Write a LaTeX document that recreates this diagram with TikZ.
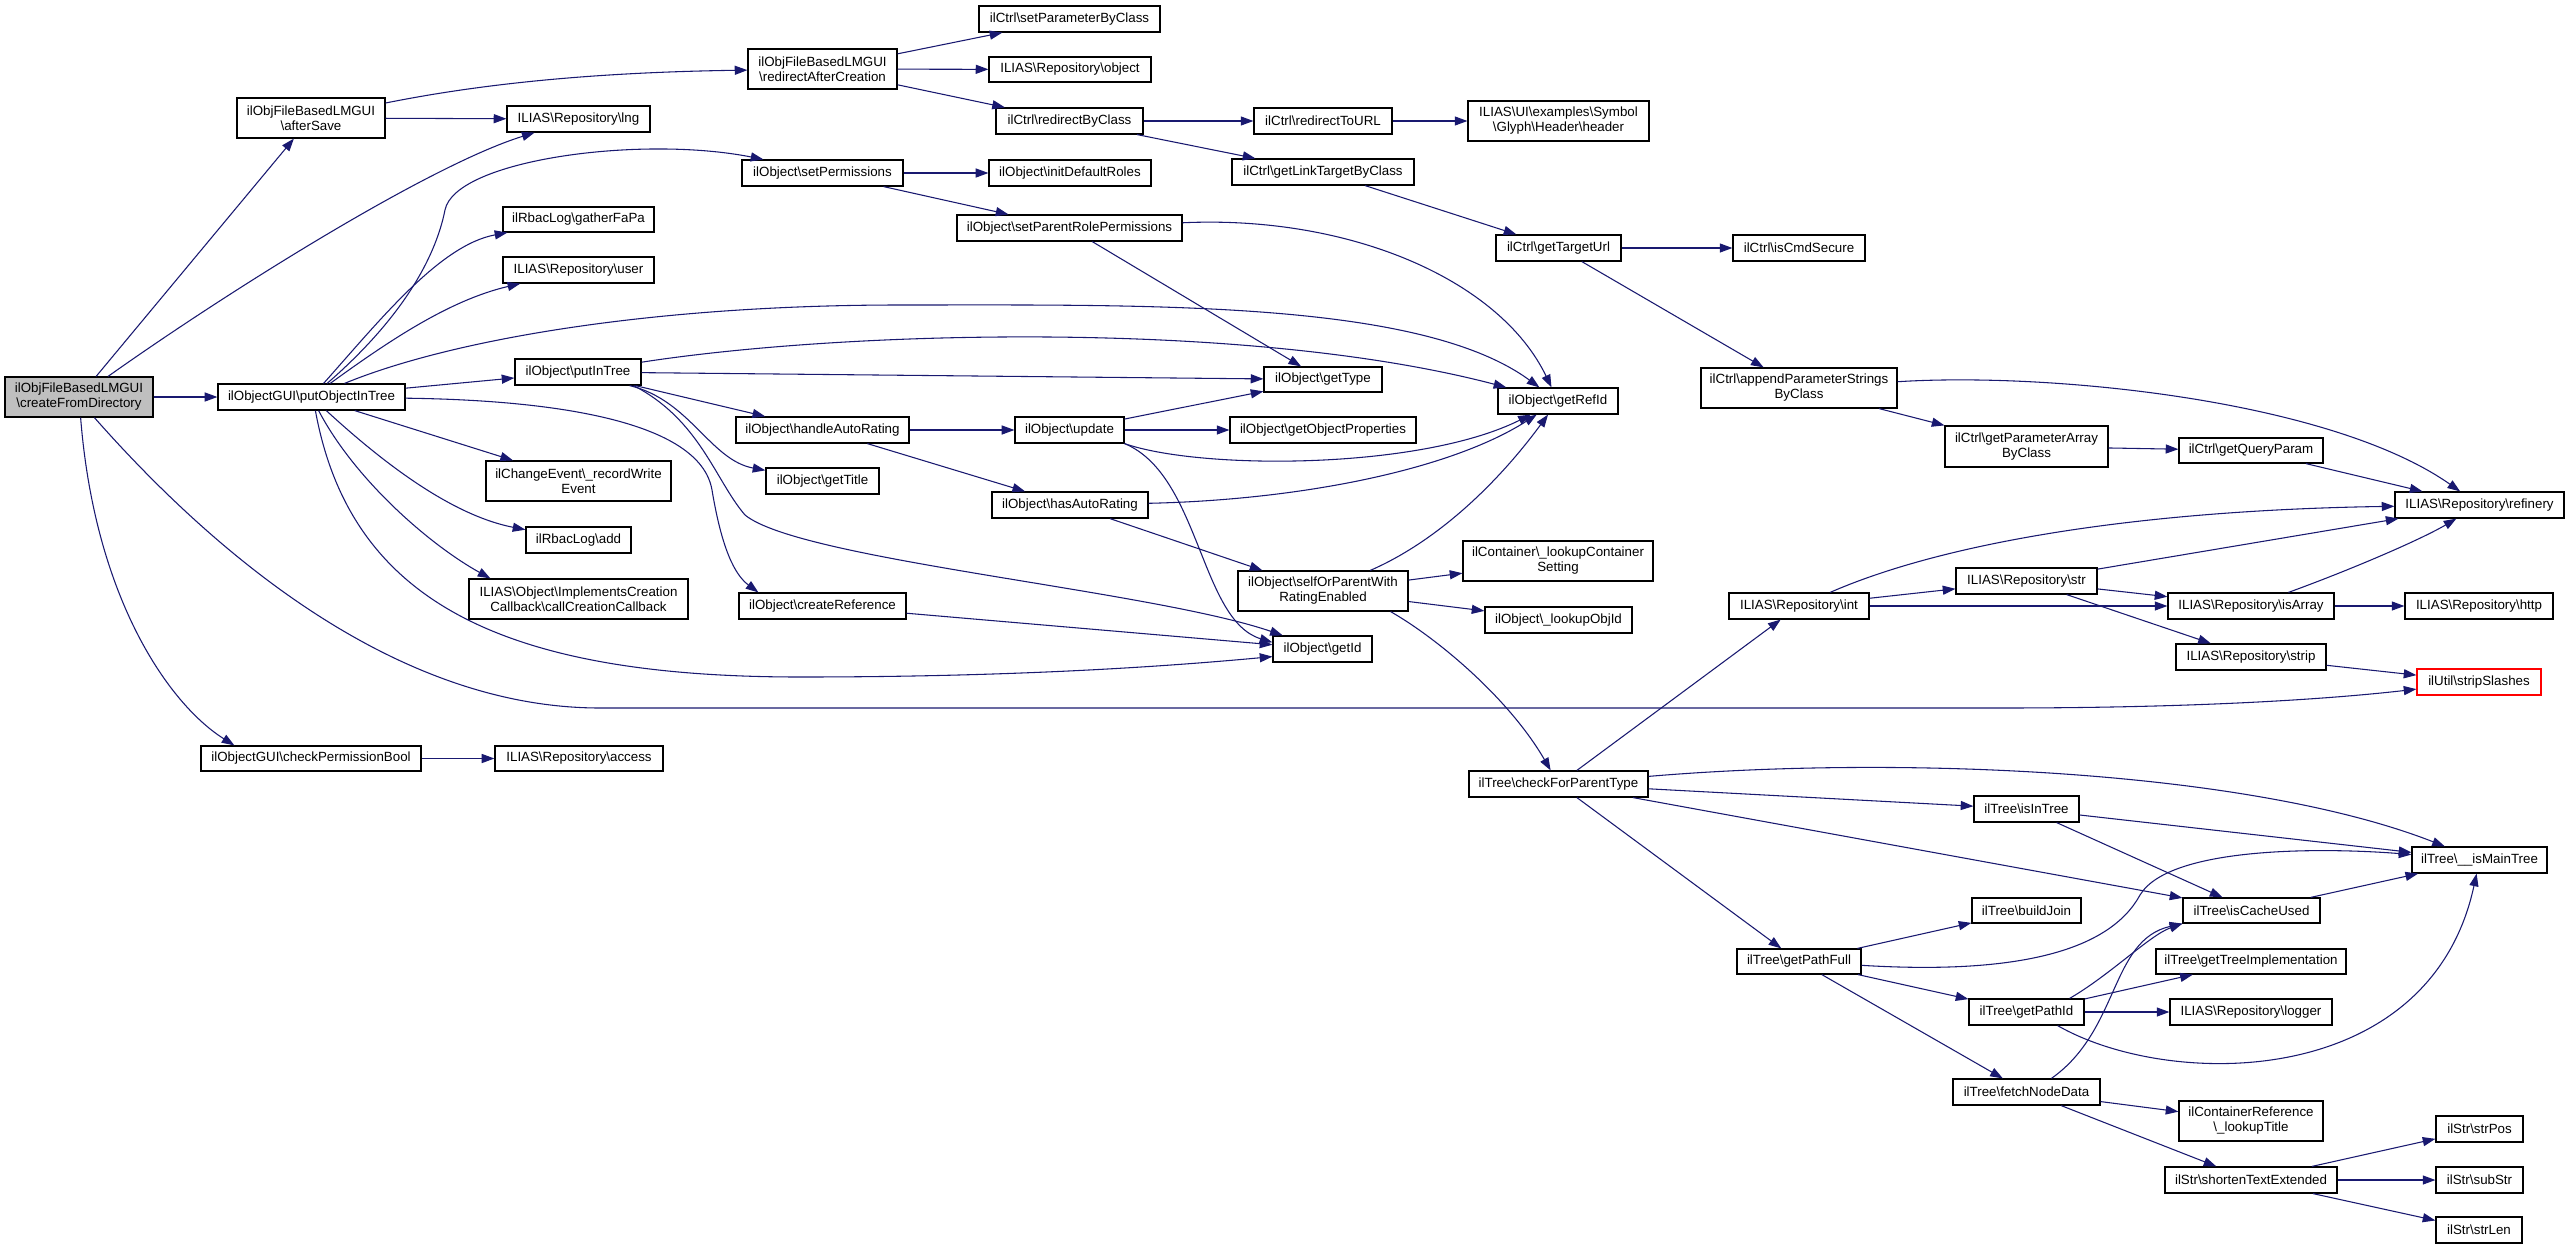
\documentclass[tikz,border=0pt]{standalone}
\usepackage{fontspec}
\setmainfont{Liberation Sans}
\usetikzlibrary{arrows.meta,calc}
\definecolor{edgec}{RGB}{25,25,112}
\definecolor{cfdgray}{RGB}{191,191,191}
\newcommand{\bsl}{\textbackslash}
\newcommand{\bx}[7][]{%
  \pgfmathsetmacro\bxw{(#5-#3)*0.75}%
  \pgfmathsetmacro\bxh{(#6-#4)*0.75}%
  \pgfmathsetmacro\bxcx{(#3+#5)/2}%
  \pgfmathsetmacro\bxcy{(#4+#6)/2}%
  \node[box,minimum width=\bxw pt,minimum height=\bxh pt,#1] (#2) at (\bxcx,\bxcy) {#7};}
\tikzset{
  box/.style={draw=black,fill=white,line width=0.9pt,inner sep=0pt,align=center,
    font=\fontsize{10}{11.3}\selectfont},
  cn/.style={draw=edgec,line width=0.8pt,-{Triangle[length=9.5pt,width=6.8pt]}}
}
\begin{document}
\begin{tikzpicture}[x=0.75pt,y=-0.75pt]
\fill[white] (0,0) rectangle (2569,1249);
\useasboundingbox (0,0) rectangle (2569,1249);
% nodes
\bx[fill=cfdgray]{cfd}{5}{377}{153}{417}{ilObjFileBasedLMGUI\\\bsl createFromDirectory}
\bx{afterSave}{237}{98}{385}{138}{ilObjFileBasedLMGUI\\\bsl afterSave}
\bx{poit}{218}{384}{405}{410}{ilObjectGUI\bsl putObjectInTree}
\bx{cpb}{201}{746}{421}{771}{ilObjectGUI\bsl checkPermissionBool}
\bx{rac}{748}{49}{897}{89}{ilObjFileBasedLMGUI\\\bsl redirectAfterCreation}
\bx{lng}{507}{106}{650}{132}{ILIAS\bsl Repository\bsl lng}
\bx{setPerm}{742}{160}{903}{186}{ilObject\bsl setPermissions}
\bx{gather}{503}{207}{654}{232}{ilRbacLog\bsl gatherFaPa}
\bx{user}{503}{257}{654}{283}{ILIAS\bsl Repository\bsl user}
\bx{putInTree}{515}{359}{641}{385}{ilObject\bsl putInTree}
\bx{rwe}{486}{461}{671}{501}{ilChangeEvent\bsl \_recordWrite\\Event}
\bx{add}{526}{527}{631}{553}{ilRbacLog\bsl add}
\bx{ccc}{469}{579}{688}{619}{ILIAS\bsl Object\bsl ImplementsCreation\\Callback\bsl callCreationCallback}
\bx{access}{495}{746}{663}{771}{ILIAS\bsl Repository\bsl access}
\bx{har}{736}{417}{909}{443}{ilObject\bsl handleAutoRating}
\bx{getTitle}{766}{468}{879}{494}{ilObject\bsl getTitle}
\bx{createRef}{739}{593}{906}{619}{ilObject\bsl createReference}
\bx{spbc}{979}{6}{1160}{32}{ilCtrl\bsl setParameterByClass}
\bx{object}{989}{57}{1151}{82}{ILIAS\bsl Repository\bsl object}
\bx{rbc}{996}{108}{1143}{134}{ilCtrl\bsl redirectByClass}
\bx{initRoles}{989}{160}{1151}{186}{ilObject\bsl initDefaultRoles}
\bx{sprp}{957}{215}{1182}{241}{ilObject\bsl setParentRolePermissions}
\bx{update}{1015}{417}{1124}{443}{ilObject\bsl update}
\bx{hasAR}{992}{492}{1148}{518}{ilObject\bsl hasAutoRating}
\bx{rtu}{1254}{108}{1392}{134}{ilCtrl\bsl redirectToURL}
\bx{gltbc}{1232}{159}{1414}{185}{ilCtrl\bsl getLinkTargetByClass}
\bx{getType}{1264}{367}{1382}{392}{ilObject\bsl getType}
\bx{gop}{1230}{417}{1416}{443}{ilObject\bsl getObjectProperties}
\bx{sopw}{1238}{571}{1408}{611}{ilObject\bsl selfOrParentWith\\RatingEnabled}
\bx{getId}{1273}{636}{1372}{662}{ilObject\bsl getId}
\bx{header}{1468}{101}{1649}{141}{ILIAS\bsl UI\bsl examples\bsl Symbol\\\bsl Glyph\bsl Header\bsl header}
\bx{gtu}{1496}{235}{1621}{261}{ilCtrl\bsl getTargetUrl}
\bx{getRefId}{1498}{388}{1618}{414}{ilObject\bsl getRefId}
\bx{lcs}{1463}{541}{1653}{581}{ilContainer\bsl \_lookupContainer\\Setting}
\bx{loi}{1485}{607}{1632}{633}{ilObject\bsl \_lookupObjId}
\bx{cfpt}{1469}{771}{1648}{797}{ilTree\bsl checkForParentType}
\bx{ics}{1733}{235}{1865}{261}{ilCtrl\bsl isCmdSecure}
\bx{apsbc}{1701}{368}{1897}{408}{ilCtrl\bsl appendParameterStrings\\ByClass}
\bx{int}{1729}{593}{1869}{619}{ILIAS\bsl Repository\bsl int}
\bx{gpf}{1737}{949}{1861}{974}{ilTree\bsl getPathFull}
\bx{gpabc}{1945}{426}{2108}{467}{ilCtrl\bsl getParameterArray\\ByClass}
\bx{str}{1956}{568}{2097}{594}{ILIAS\bsl Repository\bsl str}
\bx{isInTree}{1974}{796}{2079}{822}{ilTree\bsl isInTree}
\bx{buildJoin}{1972}{898}{2081}{923}{ilTree\bsl buildJoin}
\bx{gpi}{1969}{999}{2084}{1025}{ilTree\bsl getPathId}
\bx{fnd}{1953}{1079}{2100}{1105}{ilTree\bsl fetchNodeData}
\bx{gqp}{2179}{438}{2323}{463}{ilCtrl\bsl getQueryParam}
\bx{isArray}{2168}{593}{2334}{619}{ILIAS\bsl Repository\bsl isArray}
\bx{strip}{2176}{644}{2326}{670}{ILIAS\bsl Repository\bsl strip}
\bx{ics2}{2183}{898}{2320}{923}{ilTree\bsl isCacheUsed}
\bx{gti}{2156}{949}{2346}{974}{ilTree\bsl getTreeImplementation}
\bx{logger}{2170}{999}{2332}{1025}{ILIAS\bsl Repository\bsl logger}
\bx{lt}{2179}{1101}{2323}{1141}{ilContainerReference\\\bsl \_lookupTitle}
\bx{ste}{2165}{1167}{2337}{1193}{ilStr\bsl shortenTextExtended}
\bx{refinery}{2395}{492}{2564}{518}{ILIAS\bsl Repository\bsl refinery}
\bx{http}{2405}{593}{2553}{619}{ILIAS\bsl Repository\bsl http}
\bx[draw=red]{stripSl}{2417}{669}{2541}{695}{ilUtil\bsl stripSlashes}
\bx{imt}{2412}{847}{2547}{873}{ilTree\bsl \_\_isMainTree}
\bx{strPos}{2436}{1116}{2523}{1142}{ilStr\bsl strPos}
\bx{subStr}{2436}{1167}{2523}{1193}{ilStr\bsl subStr}
\bx{strLen}{2436}{1217}{2522}{1243}{ilStr\bsl strLen}
% edges from createFromDirectory
\draw[cn] (cfd) -- (afterSave);
\draw[cn] (cfd) .. controls (230,290) and (430,165) .. (lng);
\draw[cn] (cfd) -- (poit);
\draw[cn] (cfd) .. controls (95,600) and (170,705) .. ($(cpb.north west)+(34,0)$);
\draw[cn] ($(cfd.south west)+(90,0)$) .. controls (220,560) and (400,708) .. (600,708) -- (2000,708) .. controls (2200,708) and (2330,699) .. (stripSl);
% afterSave
\draw[cn] (afterSave) .. controls (500,80) and (620,72) .. (rac);
\draw[cn] (afterSave) -- (lng);
\draw[cn] (rac) -- (spbc);
\draw[cn] (rac) -- (object);
\draw[cn] (rac) -- (rbc);
\draw[cn] (rbc) -- (rtu);
\draw[cn] (rbc) -- (gltbc);
\draw[cn] (rtu) -- (header);
\draw[cn] (gltbc) -- (gtu);
\draw[cn] (gtu) -- (ics);
\draw[cn] (gtu) -- (apsbc);
\draw[cn] (apsbc) .. controls (2050,372) and (2330,400) .. (refinery);
\draw[cn] (apsbc) -- (gpabc);
\draw[cn] (gpabc) -- (gqp);
\draw[cn] (gqp) -- (refinery);
% putObjectInTree
\draw[cn] (poit) .. controls (400,320) and (435,260) .. (445,210) .. controls (455,160) and (640,135) .. ($(setPerm.north west)+(22,0)$);
\draw[cn] (poit) .. controls (380,320) and (440,245) .. (gather);
\draw[cn] (poit) .. controls (390,340) and (450,300) .. (user);
\draw[cn] (poit) .. controls (450,340) and (650,305) .. (900,305) .. controls (1150,305) and (1420,300) .. (getRefId);
\draw[cn] (poit) -- (putInTree);
\draw[cn] (poit) -- (rwe);
\draw[cn] (poit) .. controls (380,460) and (450,515) .. (add);
\draw[cn] (poit) .. controls (355,480) and (430,545) .. ($(ccc.north west)+(22,0)$);
\draw[cn] ($(poit.south west)+(98,0)$) .. controls (350,600) and (500,677) .. (800,677) .. controls (1000,677) and (1150,668) .. ($(getId.south west)+(0,-6)$);
\draw[cn] (poit) .. controls (550,400) and (700,420) .. (712,490) .. controls (722,550) and (735,575) .. ($(createRef.north west)+(20,0)$);
% putInTree
\draw[cn] (putInTree) .. controls (850,330) and (1250,320) .. (getRefId);
\draw[cn] (putInTree) -- (getType);
\draw[cn] (putInTree) -- (har);
\draw[cn] ($(putInTree.south east)+(-12,0)$) .. controls (690,400) and (710,460) .. (getTitle);
\draw[cn] ($(putInTree.south east)+(-8,0)$) .. controls (700,420) and (715,480) .. (745,515) .. controls (800,560) and (1150,590) .. (getId);
% handleAutoRating, update, hasAutoRating
\draw[cn] (har) -- (update);
\draw[cn] (har) -- (hasAR);
\draw[cn] (update) -- (getType);
\draw[cn] (update) -- (gop);
\draw[cn] (update.south east) .. controls (1200,470) and (1420,470) .. (getRefId);
\draw[cn] (update.south east) .. controls (1200,475) and (1200,620) .. ($(getId.north west)+(0,7)$);
\draw[cn] (hasAR) .. controls (1300,500) and (1450,470) .. (getRefId);
\draw[cn] (hasAR) -- (sopw);
\draw[cn] (sopw) .. controls (1440,540) and (1500,480) .. (getRefId);
\draw[cn] (sopw) -- (lcs);
\draw[cn] (sopw) -- (loi);
\draw[cn] ($(sopw.south east)+(-18,0)$) .. controls (1440,640) and (1510,700) .. (cfpt);
% setPermissions
\draw[cn] (setPerm) -- (initRoles);
\draw[cn] (setPerm) -- (sprp);
\draw[cn] (sprp) -- (getType);
\draw[cn] (sprp) .. controls (1350,215) and (1500,280) .. (getRefId);
\draw[cn] (createRef) -- (getId);
% checkForParentType
\draw[cn] (cfpt) -- (int);
\draw[cn] (cfpt) .. controls (1900,755) and (2250,770) .. (imt);
\draw[cn] (cfpt) -- (isInTree);
\draw[cn] (cfpt) -- (ics2);
\draw[cn] (cfpt) -- (gpf);
\draw[cn] (isInTree) -- (imt);
\draw[cn] (isInTree) -- (ics2);
\draw[cn] (ics2) -- (imt);
\draw[cn] (gpf) -- (buildJoin);
\draw[cn] (gpf) .. controls (2020,975) and (2110,950) .. (2140,895) .. controls (2170,845) and (2330,848) .. (imt);
\draw[cn] (gpf) -- (gpi);
\draw[cn] (gpf) -- (fnd);
\draw[cn] ($(gpi.north east)+(-15,0)$) .. controls (2110,975) and (2150,935) .. (ics2.south west);
\draw[cn] (gpi) -- (gti);
\draw[cn] (gpi) -- (logger);
\draw[cn] ($(gpi.south east)+(-27,0)$) .. controls (2170,1090) and (2430,1090) .. (imt);
\draw[cn] ($(fnd.north west)+(99,0)$) .. controls (2120,1030) and (2110,940) .. (ics2.south west);
\draw[cn] (fnd) -- (lt);
\draw[cn] (fnd) -- (ste);
\draw[cn] (ste) -- (strPos);
\draw[cn] (ste) -- (subStr);
\draw[cn] (ste) -- (strLen);
% Repository int, str, isArray
\draw[cn] (int) .. controls (1950,540) and (2150,510) .. (refinery);
\draw[cn] (int) -- (str);
\draw[cn] (int) -- (isArray);
\draw[cn] (str) -- (refinery);
\draw[cn] (str) -- (isArray);
\draw[cn] (str) -- (strip);
\draw[cn] (isArray) .. controls (2350,570) and (2420,540) .. (refinery);
\draw[cn] (isArray) -- (http);
\draw[cn] (strip) -- (stripSl);
\draw[cn] (cpb) -- (access);
\end{tikzpicture}
\end{document}
